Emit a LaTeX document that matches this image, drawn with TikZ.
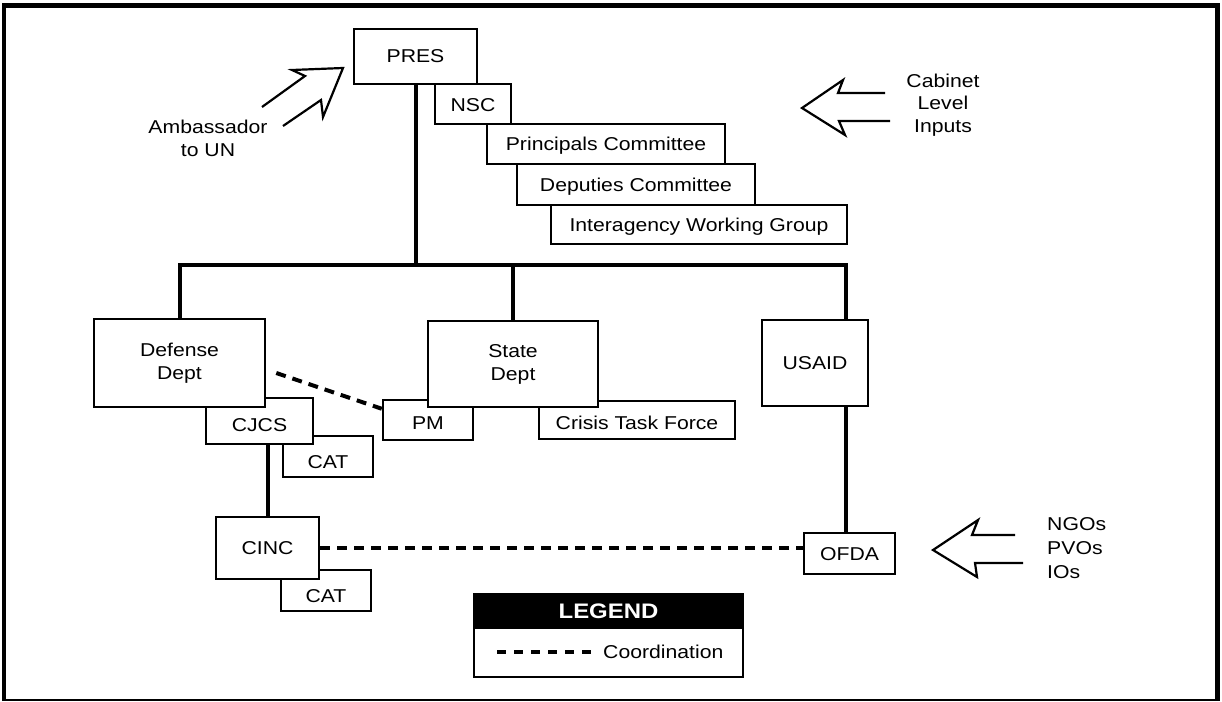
\documentclass[tikz,border=0pt]{standalone}
\usepackage{fontspec}
\setmainfont{Liberation Sans}[FakeStretch=1.14]
\usetikzlibrary{backgrounds}
\newcommand\diafont{\fontsize{18.6}{23}\selectfont}
\begin{document}
\begin{tikzpicture}[x=1pt,y=-1pt,
  box/.style={draw, line width=2.5pt, fill=white, inner sep=0pt, align=center, font=\diafont},
  wh/.style 2 args={minimum width=#1pt, minimum height=#2pt},
  capc/.style={text height=#1pt, text depth=0pt},
  conn/.style={line width=4pt},
  coordline/.style={line width=4pt, dash pattern=on 10pt off 7pt},
  hollow/.style={line width=2.2pt, line join=miter},
  lbl/.style={inner sep=0pt, font=\diafont}]
\path[use as bounding box] (0,0) rectangle (1222,701);
% frame
\draw[line width=4.5pt] (4,701) -- (4,5.5) -- (1217.5,5.5) -- (1217.5,701);
\draw[line width=1.5pt] (4,700) -- (1217.5,700);

% NSC staircase (bottom first)
\node[box, wh={296}{39}, capc=13] (iwg) at (699,224.5) {Interagency Working Group};
\node[box, wh={238}{41}, capc=13] (dc) at (636,184.5) {Deputies Committee};
\node[box, wh={238}{40}, capc=13] (pc) at (606,144) {Principals Committee};
\node[box, wh={76}{40}, capc=14] (nsc) at (473,104) {NSC};
\node[box, wh={123}{55}, capc=13] (pres) at (415.5,56.5) {PRES};

% lower boxes (subordinates first)
\node[box, wh={90}{40}, capc=19] (pm) at (428,420) {PM};
\node[box, wh={196}{38}, capc=19] (ctf) at (637,420) {Crisis Task Force};
\node[box, wh={90}{41}, capc=23] (cat1) at (328,456.5) {CAT};
\node[box, wh={107}{46}, capc=21] (cjcs) at (259.5,421) {CJCS};
\node[box, wh={90}{41}, capc=23] (cat2) at (326,590.5) {CAT};
\node[box, wh={103}{62}, capc=13] (cinc) at (267.5,548) {CINC};
\node[box, wh={171}{88}] (def) at (179.5,363) {Defense\\Dept};
\node[box, wh={170}{86}] (state) at (513,364) {State\\Dept};
\node[box, wh={106}{86}, capc=13] (usaid) at (815,363) {USAID};
\node[box, wh={91}{41}, capc=13] (ofda) at (849.5,553.5) {OFDA};

\coordinate (busR) at (846,265);

% connectors (behind the boxes)
\begin{scope}[on background layer]
\draw[conn] (pres.south) -- (pres.south |- busR);
\draw[conn] (def.north) |- (busR) -- (busR |- usaid.north);
\draw[conn] (state.north) -- (state.north |- busR);
\draw[conn] (cinc.north) -- (cinc.north |- cjcs.south);
\draw[conn] (busR |- usaid.south) -- (busR |- ofda.north);
\end{scope}

% coordination lines
\draw[coordline] ([xshift=10pt,yshift=-10pt]def.east) -- ([yshift=-10pt]pm.north west);
\draw[coordline] (cinc.east) -- (cinc.east -| ofda.west);

% hollow arrows
\draw[hollow] (262,107) -- (305,76) -- (292,70) -- (343,68) -- (323,117) -- (321,100) -- (283,126);
\draw[hollow] (885,93) -- (838,93) -- (843,80) -- (802,108) -- (845,135) -- (839,121) -- (890,121);
\draw[hollow] (1015,535) -- (972,535) -- (978,520) -- (933,550) -- (977,577) -- (975,563) -- (1023,563);

% outside labels
\node[lbl, align=center] (amb) at (208,138) {Ambassador\\to UN};
\node[lbl, align=center, font=\fontsize{18.6}{22.5}\selectfont] (cab) at (943,105) {Cabinet\\Level\\Inputs};
\node[lbl, align=left, anchor=west, font=\fontsize{18.6}{24}\selectfont] (ngo) at (1047,548) {NGOs\\PVOs\\IOs};

% legend
\node[draw, line width=2pt, fill=black, text=white, inner sep=0pt, wh={269}{34}, capc=15,
      font=\fontsize{21}{24}\selectfont\bfseries] (leghead) at (608.5,611) {LEGEND};
\node[draw, line width=2pt, fill=white, inner sep=0pt, wh={269}{49}] (legbody) at (608.5,652.5) {};
\node[lbl, anchor=west, text height=13pt, text depth=0pt] (legtext) at (603,652) {Coordination};
\draw[line width=4pt, dash pattern=on 9pt off 8pt] (497,652) coordinate (ld) -- ([xshift=-10pt]legtext.west);
\end{tikzpicture}
\end{document}
